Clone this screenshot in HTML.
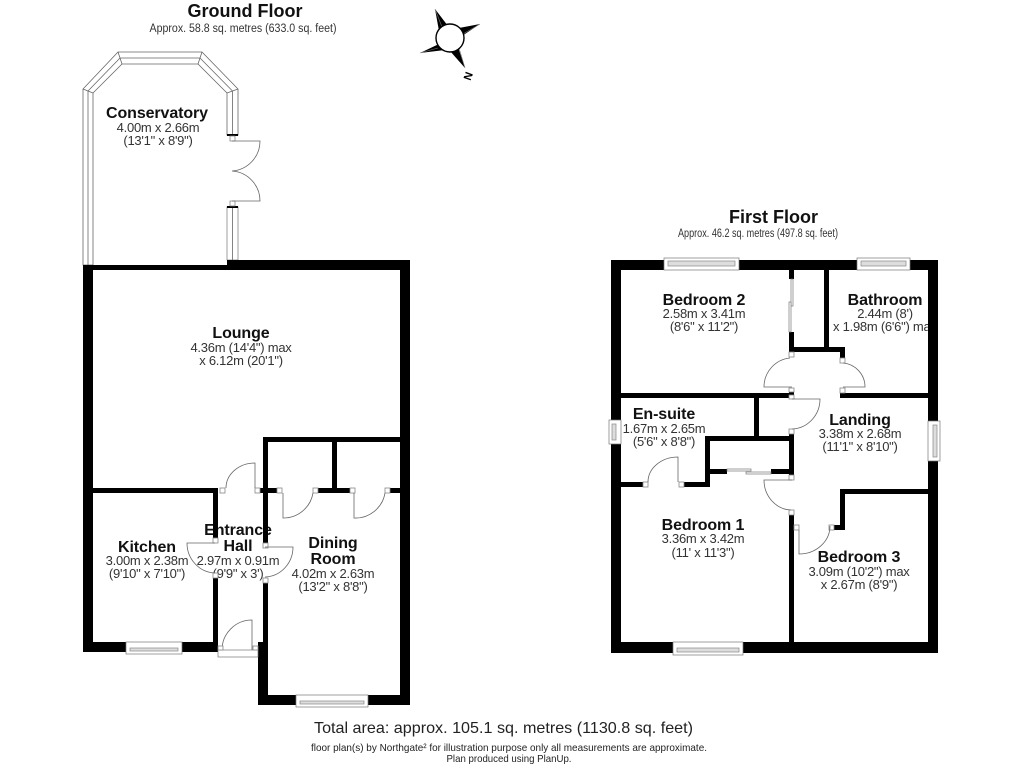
<!DOCTYPE html>
<html>
<head>
<meta charset="utf-8">
<style>
html,body{margin:0;padding:0;background:#fff}
svg{display:block}
text{font-family:"Liberation Sans",sans-serif;fill:#222;text-anchor:middle}
.n{font-size:16px;font-weight:bold;fill:#111;letter-spacing:-.1px}
.d{font-size:13px;fill:#333;letter-spacing:-.25px}
.s{font-size:11.5px;fill:#333}
.t{font-size:18px;font-weight:bold;fill:#111}
.w{fill:#000}
.b{fill:#fff;stroke:#777;stroke-width:.7}
.l{fill:none;stroke:#666;stroke-width:.8}
.c{fill:#fff;stroke:#888;stroke-width:.8}
.g{fill:#ddd;stroke:#888;stroke-width:.7}
</style>
</head>
<body>
<svg width="1024" height="768" viewBox="0 0 1024 768" xmlns="http://www.w3.org/2000/svg">
<rect width="1024" height="768" fill="#fff"/>

<!-- Ground floor labels -->
<text class="t" x="245" y="17">Ground Floor</text>
<text class="s" x="243" y="32" textLength="187" lengthAdjust="spacingAndGlyphs">Approx. 58.8 sq. metres (633.0 sq. feet)</text>
<text class="n" x="157" y="118">Conservatory</text>
<text class="d" x="158" y="132">4.00m x 2.66m</text>
<text class="d" x="158" y="145">(13'1" x 8'9")</text>
<text class="n" x="241" y="338">Lounge</text>
<text class="d" x="241" y="352">4.36m (14'4") max</text>
<text class="d" x="241" y="365">x 6.12m (20'1")</text>
<text class="n" x="147" y="552">Kitchen</text>
<text class="d" x="147" y="565">3.00m x 2.38m</text>
<text class="d" x="147" y="578">(9'10" x 7'10")</text>
<text class="n" x="333" y="548">Dining</text>
<text class="n" x="333" y="564">Room</text>
<text class="d" x="333" y="578">4.02m x 2.63m</text>
<text class="d" x="333" y="591">(13'2" x 8'8")</text>
<text class="n" x="238" y="535">Entrance</text>
<text class="n" x="238" y="551">Hall</text>
<text class="d" x="238" y="565">2.97m x 0.91m</text>
<text class="d" x="238" y="578">(9'9" x 3')</text>

<!-- First floor labels -->
<text class="t" x="773.5" y="223">First Floor</text>
<text class="s" x="758" y="237" textLength="160" lengthAdjust="spacingAndGlyphs">Approx. 46.2 sq. metres (497.8 sq. feet)</text>
<text class="n" x="704" y="305">Bedroom 2</text>
<text class="d" x="704" y="318">2.58m x 3.41m</text>
<text class="d" x="704" y="331">(8'6" x 11'2")</text>
<text class="n" x="885" y="305">Bathroom</text>
<text class="d" x="885" y="318">2.44m (8')</text>
<text class="d" x="833" y="331" style="text-anchor:start">x 1.98m (6'6") max</text>
<text class="n" x="664" y="419">En-suite</text>
<text class="d" x="664" y="433">1.67m x 2.65m</text>
<text class="d" x="664" y="446">(5'6" x 8'8")</text>
<text class="n" x="860" y="425">Landing</text>
<text class="d" x="860" y="438">3.38m x 2.68m</text>
<text class="d" x="860" y="451">(11'1" x 8'10")</text>
<text class="n" x="703" y="530">Bedroom 1</text>
<text class="d" x="703" y="543">3.36m x 3.42m</text>
<text class="d" x="703" y="557">(11' x 11'3")</text>
<text class="n" x="859" y="562">Bedroom 3</text>
<text class="d" x="859" y="576">3.09m (10'2") max</text>
<text class="d" x="859" y="589">x 2.67m (8'9")</text>

<!-- Conservatory frame -->
<path d="M83 265V89L118 52H202L238 89V135H227V93L198 64H122L93 93V265Z" fill="#fff" stroke="#666" stroke-width=".8"/>
<path d="M88 265V91L120 58H200L232.5 91V135" class="l"/>
<path d="M118 52L122 64M202 52L198 64M83 89L93 93M238 89L227 93" class="l"/>
<rect x="227" y="134" width="11" height="2" class="w"/>
<rect x="227" y="207" width="11" height="53" class="b"/>
<path d="M232.500 207V260" class="l"/>
<rect x="227" y="206" width="11" height="2" class="w"/>
<rect x="230" y="136" width="5" height="5" class="b"/>
<rect x="230" y="201" width="5" height="5" class="b"/>
<path d="M232 141H260A30 30 0 0 1 232 171A30 30 0 0 1 260 201H232" class="l"/>

<!-- Ground floor walls -->
<g class="w">
<rect x="83" y="265" width="144" height="5"/>
<rect x="227" y="260" width="183" height="10"/>
<rect x="400" y="260" width="10" height="445"/>
<rect x="83" y="265" width="10" height="387"/>
<rect x="83" y="642" width="135" height="10"/>
<rect x="93" y="488" width="125" height="5"/>
<rect x="213" y="488" width="5" height="50"/>
<rect x="213" y="578" width="5" height="64"/>
<rect x="263" y="437" width="137" height="5"/>
<rect x="263" y="437" width="5" height="106"/>
<rect x="263" y="583" width="5" height="59"/>
<rect x="258" y="642" width="10" height="63"/>
<rect x="258" y="695" width="152" height="10"/>
<rect x="260" y="488" width="17" height="5"/>
<rect x="318" y="488" width="32" height="5"/>
<rect x="390" y="488" width="10" height="5"/>
<rect x="332" y="442" width="5" height="46"/>
</g>

<!-- Ground floor door jambs -->
<rect x="220" y="488" width="5" height="5" class="c"/>
<rect x="255" y="488" width="5" height="5" class="c"/>
<rect x="277" y="488" width="5" height="5" class="c"/>
<rect x="313" y="488" width="5" height="5" class="c"/>
<rect x="350" y="488" width="5" height="5" class="c"/>
<rect x="385" y="488" width="5" height="5" class="c"/>
<rect x="213" y="538" width="5" height="5" class="c"/>
<rect x="213" y="573" width="5" height="5" class="c"/>
<rect x="263" y="543" width="5" height="5" class="c"/>
<rect x="263" y="578" width="5" height="5" class="c"/>
<!-- Ground floor door swings -->
<path d="M255 488V463A29 25 0 0 0 226 488" class="l"/>
<path d="M283 493V518A30 30 0 0 0 313 493" class="l"/>
<path d="M354 493V518A30 30 0 0 0 385 493" class="l"/>
<path d="M215 543H187A29 30 0 0 0 215 573" class="l"/>
<path d="M265 547H293A29 30 0 0 1 265 577" class="l"/>
<path d="M252 650V620A30 30 0 0 0 222 650" class="l"/>
<rect x="218" y="650" width="40" height="7" fill="#fff" stroke="#777" stroke-width=".7"/>
<rect x="218" y="646" width="5" height="4" class="c"/>
<rect x="253" y="646" width="5" height="4" class="c"/>
<!-- Ground floor windows -->
<rect x="126" y="642" width="56" height="12" class="b"/>
<rect x="130" y="648" width="48" height="3" class="g"/>
<rect x="296" y="695" width="72" height="12" class="b"/>
<rect x="300" y="701" width="64" height="3" class="g"/>

<!-- First floor walls -->
<g class="w">
<rect x="611" y="260" width="327" height="10"/>
<rect x="611" y="642" width="327" height="11"/>
<rect x="611" y="260" width="10" height="393"/>
<rect x="928" y="260" width="10" height="393"/>
<rect x="789" y="270" width="5" height="9"/>
<rect x="789" y="332" width="5" height="20"/>
<rect x="789" y="347" width="56" height="5"/>
<rect x="840" y="347" width="5" height="11"/>
<rect x="824" y="270" width="5" height="77"/>
<rect x="621" y="393" width="168" height="5"/>
<rect x="840" y="393" width="88" height="5"/>
<rect x="789" y="392" width="5" height="3"/>
<rect x="705" y="436" width="89" height="5"/>
<rect x="754" y="398" width="5" height="38"/>
<rect x="789" y="434" width="5" height="41"/>
<rect x="705" y="436" width="5" height="51"/>
<rect x="710" y="469" width="17" height="5"/>
<rect x="771" y="469" width="23" height="5"/>
<rect x="621" y="482" width="22" height="5"/>
<rect x="684" y="482" width="26" height="5"/>
<rect x="789" y="515" width="5" height="127"/>
<rect x="834" y="525" width="11" height="5"/>
<rect x="840" y="489" width="5" height="41"/>
<rect x="840" y="489" width="88" height="5"/>
</g>
<!-- First floor jambs -->
<rect x="789" y="352" width="5" height="5" class="c"/>
<rect x="789" y="388" width="5" height="4" class="c"/>
<rect x="789" y="395" width="5" height="4" class="c"/>
<rect x="840" y="358" width="5" height="5" class="c"/>
<rect x="840" y="388" width="5" height="5" class="c"/>
<rect x="789" y="429" width="5" height="5" class="c"/>
<rect x="789" y="475" width="5" height="5" class="c"/>
<rect x="789" y="510" width="5" height="5" class="c"/>
<rect x="643" y="482" width="5" height="5" class="c"/>
<rect x="679" y="482" width="5" height="5" class="c"/>
<rect x="794" y="525" width="5" height="5" class="c"/>
<rect x="829" y="525" width="5" height="5" class="c"/>
<!-- First floor door swings -->
<path d="M792 387H764A29 29 0 0 1 790 358" class="l"/>
<path d="M843 387H865A24 24 0 0 0 843 363" class="l"/>
<path d="M792 399H820A29 30 0 0 1 792 429" class="l"/>
<path d="M678 482V457A30 25 0 0 0 648 482" class="l"/>
<path d="M792 480H764A28 30 0 0 0 791 510" class="l"/>
<path d="M799 530V554A31 28 0 0 0 830 526" class="l"/>
<!-- Sliding doors -->
<rect x="791" y="279" width="2" height="27" class="b"/>
<rect x="789" y="302" width="2" height="30" class="b"/>
<rect x="727" y="469" width="24" height="2" class="b"/>
<rect x="746" y="472" width="25" height="2" class="b"/>
<!-- First floor windows -->
<rect x="664" y="258" width="75" height="12" class="b"/>
<rect x="668" y="261" width="67" height="5" class="g"/>
<rect x="857" y="258" width="53" height="12" class="b"/>
<rect x="861" y="261" width="45" height="5" class="g"/>
<rect x="609" y="420" width="12" height="24" class="b"/>
<rect x="612" y="424" width="4" height="16" class="g"/>
<rect x="928" y="421" width="12" height="40" class="b"/>
<rect x="933" y="425" width="4" height="32" class="g"/>
<rect x="673" y="642" width="70" height="13" class="b"/>
<rect x="677" y="648" width="62" height="4" class="g"/>

<!-- Compass -->
<g>
<path d="M435 9L448 26L439 31Z" fill="#000"/>
<path d="M480 24L459 28L462 36Z" fill="#000"/>
<path d="M420 53L441 43L445 50Z" fill="#000"/>
<path d="M465 68L450 51L458 47Z" fill="#000"/>
<path d="M435 9L442 27M480 24L463 34M420 53L438 48M465 68L459 48" stroke="#777" stroke-width=".6" fill="none"/>
<circle cx="450" cy="38" r="14" fill="#fff" stroke="#000" stroke-width="1.4"/>
<text x="468" y="80" transform="rotate(-70 468 76)" style="font-size:11px;font-weight:bold;fill:#000">N</text>
</g>

<!-- Footer -->
<text x="503.500" y="733" style="font-size:16px;fill:#222" textLength="379" lengthAdjust="spacingAndGlyphs">Total area: approx. 105.1 sq. metres (1130.8 sq. feet)</text>
<text x="509" y="751" style="font-size:10.5px;fill:#222" textLength="396" lengthAdjust="spacingAndGlyphs">floor plan(s) by Northgate² for illustration purpose only all measurements are approximate.</text>
<text x="509" y="762" style="font-size:10.5px;fill:#222" textLength="125" lengthAdjust="spacingAndGlyphs">Plan produced using PlanUp.</text>
</svg>
</body>
</html>
